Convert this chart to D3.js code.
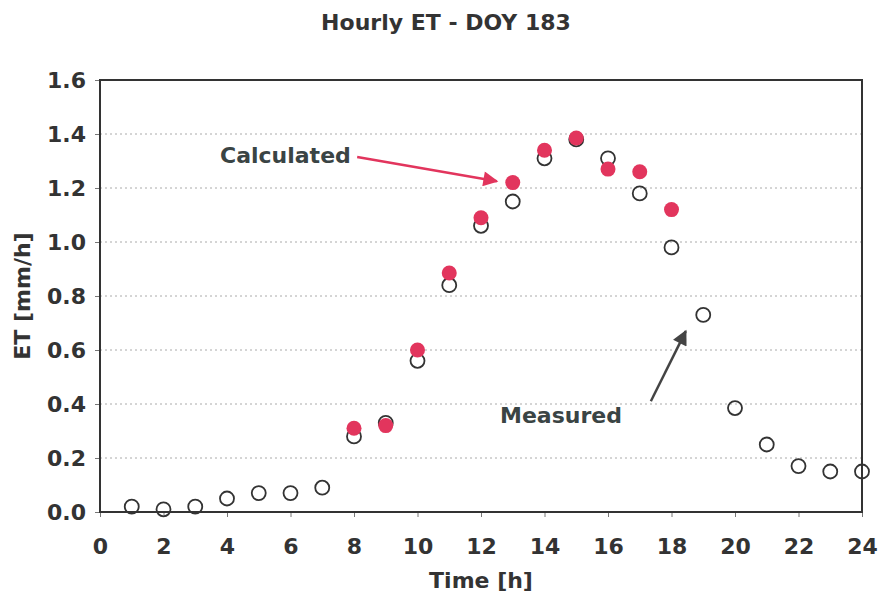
<!DOCTYPE html>
<html><head><meta charset="utf-8">
<script src="https://cdn.jsdelivr.net/npm/d3@7"></script>
<style>body{margin:0;background:#fff}svg{display:block}</style>
</head><body>
<script>
const hoursMeasured = [1,2,3,4,5,6,7,8,9,10,11,12,13,14,15,16,17,18,19,20,21,22,23,24];
const measured = [0.02,0.01,0.02,0.05,0.07,0.07,0.09,0.28,0.33,0.56,0.84,1.06,1.15,1.31,1.38,1.31,1.18,0.98,0.73,0.385,0.25,0.17,0.15,0.15];
const hoursCalculated = [8,9,10,11,12,13,14,15,16,17,18];
const calculated = [0.31,0.32,0.60,0.885,1.09,1.22,1.34,1.385,1.27,1.26,1.12];
const xTicks = [0,2,4,6,8,10,12,14,16,18,20,22,24];
const yTicks = [0,0.2,0.4,0.6,0.8,1.0,1.2,1.4,1.6];

const W = 882, H = 595;
const m = {left:100, right:20, top:80, bottom:83};
const svg = d3.select("body").append("svg").attr("width",W).attr("height",H);
const font = "'DejaVu Sans', Verdana, sans-serif";
const x = d3.scaleLinear().domain([0,24]).range([m.left, W-m.right]);
const y = d3.scaleLinear().domain([0,1.6]).range([H-m.bottom, m.top]);
const ink = "#333";

// gridlines
svg.append("g").selectAll("line").data(yTicks.filter(d=>d>0 && d<1.6)).join("line")
  .attr("x1",x(0)).attr("x2",x(24)).attr("y1",d=>y(d)).attr("y2",d=>y(d))
  .attr("stroke","#aaa").attr("stroke-width",1).attr("stroke-dasharray","2,3");

// axes
const yAxis = svg.append("g").attr("transform",`translate(${x(0)},0)`)
  .call(d3.axisLeft(y).tickValues(yTicks).tickFormat(d3.format(".1f")).tickSize(5).tickPadding(9));
const xAxis = svg.append("g").attr("transform",`translate(0,${y(0)})`)
  .call(d3.axisBottom(x).tickValues(xTicks).tickSize(5).tickPadding(21));
[xAxis,yAxis].forEach(g=>{
  g.select(".domain").remove();
  g.selectAll(".tick line").attr("stroke","#777").attr("stroke-width",1);
  g.selectAll("text").attr("fill",ink).attr("font-family",font).attr("font-weight","bold").attr("font-size",22);
});

// frame
svg.append("rect").attr("x",x(0)).attr("y",y(1.6)).attr("width",x(24)-x(0)).attr("height",y(0)-y(1.6))
  .attr("fill","none").attr("stroke",ink).attr("stroke-width",2);

// measured
svg.append("g").selectAll("circle").data(measured).join("circle")
  .attr("cx",(d,i)=>x(hoursMeasured[i])).attr("cy",d=>y(d)).attr("r",7)
  .attr("fill","none").attr("stroke",ink).attr("stroke-width",1.8);
// calculated
svg.append("g").selectAll("circle").data(calculated).join("circle")
  .attr("cx",(d,i)=>x(hoursCalculated[i])).attr("cy",d=>y(d)).attr("r",7.5)
  .attr("fill","#e2355d");

// title
svg.append("text").attr("x",446).attr("y",30).attr("text-anchor","middle")
  .attr("font-family",font).attr("font-weight","bold").attr("font-size",22).attr("fill",ink)
  .text("Hourly ET - DOY 183");
svg.append("text").attr("x",(x(0)+x(24))/2).attr("y",588).attr("text-anchor","middle")
  .attr("font-family",font).attr("font-weight","bold").attr("font-size",22).attr("fill",ink)
  .text("Time [h]");
svg.append("text").attr("transform",`translate(30,${(y(0)+y(1.6))/2}) rotate(-90)`).attr("text-anchor","middle")
  .attr("font-family",font).attr("font-weight","bold").attr("font-size",22).attr("fill",ink)
  .text("ET [mm/h]");

// annotations
const defs = svg.append("defs");
function marker(id,color){
  defs.append("marker").attr("id",id).attr("viewBox","0 0 10 10").attr("refX",9).attr("refY",5)
    .attr("markerWidth",7).attr("markerHeight",6).attr("orient","auto").attr("markerUnits","strokeWidth")
    .append("path").attr("d","M0,0 L10,5 L0,10 Z").attr("fill",color);
}
marker("arR","#e2355d"); marker("arK","#444");
svg.append("text").attr("x",220).attr("y",163).attr("font-family",font).attr("font-weight","bold")
  .attr("font-size",22).attr("fill","#3a4444").text("Calculated");
svg.append("line").attr("x1",x(8.1)).attr("y1",y(1.315)).attr("x2",x(12.5)).attr("y2",y(1.225))
  .attr("stroke","#e2355d").attr("stroke-width",2.5).attr("marker-end","url(#arR)");
svg.append("text").attr("x",500).attr("y",423).attr("font-family",font).attr("font-weight","bold")
  .attr("font-size",22).attr("fill","#3a4444").text("Measured");
svg.append("line").attr("x1",x(17.35)).attr("y1",y(0.41)).attr("x2",x(18.45)).attr("y2",y(0.67))
  .attr("stroke","#444").attr("stroke-width",2.5).attr("marker-end","url(#arK)");
</script>
</body></html>
